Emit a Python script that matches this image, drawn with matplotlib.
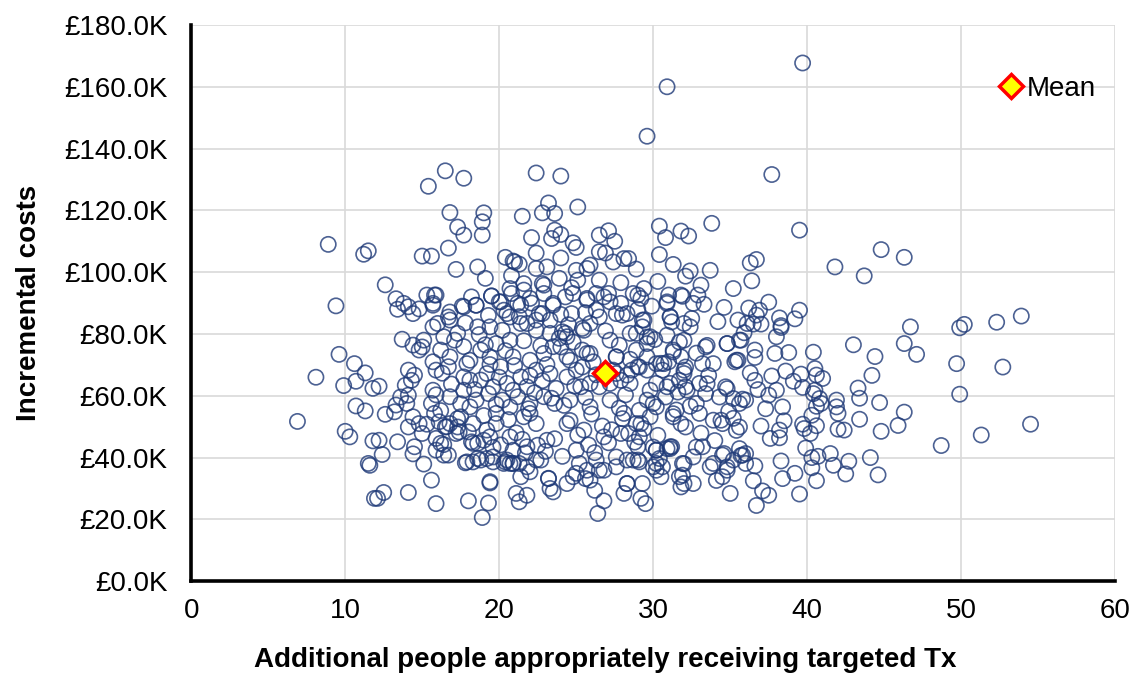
import matplotlib
matplotlib.use("Agg")
import matplotlib.pyplot as plt
from matplotlib import font_manager
from matplotlib.ticker import FuncFormatter

# additional people receiving targeted Tx (x) and incremental cost in £K (y),
# read off the reference scatter, one pair per position
x_people = [
    39.7, 37.7, 39.5, 44.8, 46.3, 41.8, 43.7, 36.3, 36.7, 36.4, 37.5, 36.2, 36.9, 36.7, 36.5, 37.0,
    38.2, 38.3, 38.3, 39.5, 39.2, 38.0, 46.7, 46.3, 47.1, 49.9, 50.2, 49.7, 49.9, 51.3, 48.7, 43.0,
    44.4, 44.2, 43.3, 43.4, 44.7, 43.4, 46.3, 45.9, 44.8, 44.1, 44.6, 42.5, 42.7, 41.7, 41.5, 41.9,
    41.9, 42.0, 42.0, 42.4, 40.4, 40.5, 40.6, 41.0, 39.6, 39.7, 39.1, 40.5, 40.4, 40.8, 40.9, 40.6,
    40.3, 40.6, 40.2, 39.7, 39.8, 39.9, 40.3, 40.7, 40.3, 40.6, 39.5, 39.2, 38.4, 38.3, 36.5, 37.1,
    37.5, 36.7, 36.6, 36.0, 35.8, 38.4, 37.3, 37.0, 38.5, 38.2, 37.6, 38.2, 38.6, 37.7, 36.6, 36.8,
    38.0, 37.5, 36.3, 37.9, 38.8, 36.6, 36.6, 35.8, 52.3, 53.9, 52.7, 54.5,
    # left side
    16.5, 17.7, 15.4, 16.8, 19.0, 18.9, 17.3, 17.7, 18.9, 8.9, 11.2, 11.5, 16.7, 15.0, 15.6, 17.2,
    18.6, 19.1, 20.4, 21.0, 12.6, 9.4, 13.3, 13.8, 13.4, 14.1, 14.4, 14.8, 15.3, 15.9, 15.7, 15.7,
    17.6, 18.5, 16.8, 16.7, 19.5, 20.0, 15.7, 9.6, 10.6, 11.3, 10.7, 8.1, 9.9, 11.8, 12.2, 10.7,
    11.3, 6.9, 12.6, 13.2, 10.0, 10.3, 11.8, 12.2, 13.4, 12.4, 11.5, 11.6, 14.4, 14.5, 15.1, 15.6,
    11.9, 12.1, 12.5, 14.1, 15.9, 18.0, 19.3, 18.9, 19.4, 13.7, 14.4, 15.1, 14.8, 15.0, 15.7, 14.1,
    14.5, 14.3, 13.9, 14.1, 13.6, 14.0, 13.3, 14.4, 14.8, 15.3, 15.0, 14.1, 15.9, 16.4, 15.9, 16.4,
    16.7, 17.8, 18.3, 18.6, 19.2, 19.6, 20.3, 20.7, 18.2, 18.6, 19.0, 17.4, 17.3, 16.8, 16.5, 16.1,
    # middle
    30.9, 29.6, 22.4, 24.0, 23.2, 22.8, 23.6, 25.1, 21.5, 23.6, 24.0, 23.4, 22.1, 24.8, 25.0, 22.4,
    24.0, 26.5, 27.1, 27.5, 26.5, 26.9, 27.4, 30.4, 30.8, 31.8, 32.3, 33.8, 30.4, 31.3, 32.4, 32.1,
    33.7, 28.1, 28.4, 20.9, 21.3, 22.4, 23.1, 22.8, 22.9, 25.0, 25.7, 25.9, 25.1, 24.7, 35.2, 26.5,
    27.1, 26.3, 25.7, 28.7, 29.4, 29.2, 29.9, 31.0, 30.9, 31.9, 32.9, 32.6, 33.3, 35.5, 36.1, 31.1,
    31.2, 32.5, 32.4, 29.3, 29.3, 28.9, 27.6, 28.0, 26.5, 25.9, 25.4, 21.6, 21.6, 20.7, 21.2, 20.7,
    20.3, 21.4, 22.4, 22.6, 23.5, 24.3, 23.3, 24.1, 24.4, 24.8, 24.0, 33.4, 33.2, 33.9, 34.8, 35.6,
    35.5, 35.3, 31.7, 31.3, 31.8, 32.1, 31.0, 30.6, 30.2, 29.6, 28.9, 29.6, 29.1, 28.6, 28.3, 25.4,
    25.9, 26.1, 25.4, 25.0, 24.6, 27.6, 27.4, 27.9, 27.2, 26.5, 25.9, 30.2, 30.9, 31.7, 32.1, 33.0,
    33.4, 34.3, 34.7, 35.2, 35.6, 36.0, 29.6, 29.1, 29.8, 28.9, 28.4, 29.1, 31.3, 31.8, 32.1, 33.0,
    33.9, 34.5, 35.2, 35.6, 30.2, 30.9, 31.2, 30.4, 30.0, 30.6, 31.9, 32.6, 33.2, 33.9, 34.5, 35.2,
    34.8, 35.6, 36.0, 31.7, 31.8, 32.6, 34.5, 35.0, 28.3, 28.1, 29.3, 29.2, 29.5, 26.8, 26.4, 26.2,
    25.9, 25.6, 23.3, 23.5, 24.4, 21.1, 21.3, 21.8, 23.2, 22.4, 21.3, 22.0, 20.5, 20.9, 25.2, 25.0,
    25.7, 26.5, 27.6, 28.3, 28.7, 29.1,
    # dense core, left half
    15.8, 17.7, 18.5, 19.5, 20.1, 20.8, 21.4, 22.0, 22.9, 22.8, 23.5, 16.0, 16.8, 17.3, 17.1, 18.6,
    19.4, 20.2, 20.5, 21.3, 21.8, 22.4, 23.3, 16.2, 17.7, 18.8, 19.8, 20.7, 22.0, 22.9, 23.5, 15.9,
    16.7, 17.7, 18.8, 19.6, 20.5, 21.4, 22.4, 23.3, 16.8, 17.7, 18.5, 19.3, 20.2, 21.2, 22.0, 22.9,
    23.6, 15.8, 16.6, 17.5, 18.3, 19.2, 19.8, 20.7, 21.6, 22.4, 23.1, 16.2, 17.2, 18.3, 19.4, 20.9,
    21.8, 17.9, 18.8, 19.6, 20.4, 20.9, 21.4, 21.8, 22.7, 19.4, 23.2, 15.7, 15.6, 18.1, 19.2, 20.1,
    20.9, 21.8, 18.1, 20.7, 22.0, 19.8, 16.8, 18.1, 20.9, 19.4,
    # dense core, right half
    24.8, 25.7, 26.8, 27.9, 29.0, 30.9, 31.8, 24.7, 26.3, 28.3, 29.4, 31.1, 32.0, 24.3, 25.5, 27.2,
    28.5, 29.8, 31.3, 24.4, 25.7, 27.6, 29.0, 30.5, 32.0, 24.4, 25.3, 27.6, 28.5, 29.8, 31.1, 32.2,
    24.6, 25.9, 27.2, 28.1, 29.2, 30.2, 31.5, 24.4, 25.5, 26.8, 27.9, 29.0, 30.2, 31.1, 25.0, 26.3,
    27.6, 29.0, 30.2, 24.8, 26.8, 28.3, 30.5, 31.9,
    29.6, 30.9, 32.0, 33.5, 34.8, 35.7, 35.4, 29.6, 30.7, 32.0, 33.5, 34.8, 30.0, 31.3, 32.8, 34.4,
    35.4, 30.0, 31.1, 32.8, 34.6, 35.7, 32.0, 33.7, 34.8, 30.2, 32.0, 34.1,
    # extra core
    19.8, 20.6, 21.1, 21.9, 22.3, 22.8, 23.1, 23.7, 24.2, 24.6, 25.1, 25.6, 26.0, 26.7, 27.1, 27.8,
    28.2, 28.8, 23.6, 22.5, 21.7, 20.1, 19.0, 18.4, 17.5, 16.9, 16.3, 17.9, 19.1, 20.4, 21.6, 22.7,
    23.9, 24.5, 25.6, 26.9, 27.8, 28.5, 26.3, 24.9, 23.4, 22.0, 21.0, 20.0, 19.4, 18.7, 17.8, 16.4,
    15.9, 16.2, 17.3, 18.0, 19.6, 21.5, 23.0, 24.1, 25.8, 26.2, 27.3, 28.0, 29.4, 30.3, 30.8, 31.6,
    32.4, 33.1, 34.0, 34.9, 33.6, 32.8, 30.1, 29.0, 27.2, 24.0, 22.1, 19.3, 18.2, 20.8, 23.9, 27.9,
    30.3, 28.9, 33.1, 34.2, 34.6, 35.9,
]
y_cost_k = [
    167.7, 131.6, 113.6, 107.3, 104.8, 101.7, 98.8, 103.0, 104.1, 97.2, 90.3, 88.4, 87.7, 86.1, 83.2, 83.2,
    85.2, 82.7, 82.1, 87.7, 84.9, 79.1, 82.3, 76.9, 73.4, 82.0, 83.1, 70.4, 60.5, 47.3, 43.9, 76.5,
    72.7, 66.6, 62.5, 59.2, 57.8, 52.4, 54.7, 50.4, 48.5, 40.0, 34.4, 34.7, 38.8, 37.5, 41.3, 58.6,
    56.4, 54.3, 49.2, 48.9, 74.1, 68.8, 66.7, 65.6, 67.0, 62.7, 64.7, 61.8, 60.7, 59.1, 57.5, 56.6,
    53.7, 50.3, 47.8, 50.8, 49.4, 43.1, 40.0, 40.4, 36.7, 32.5, 28.2, 34.9, 33.2, 38.9, 32.5, 29.2,
    27.8, 24.5, 37.3, 38.1, 40.8, 56.4, 55.8, 50.2, 51.9, 48.9, 46.2, 46.4, 68.0, 66.4, 65.0, 62.0,
    61.8, 60.2, 67.4, 73.7, 74.0, 74.8, 72.4, 58.9, 83.8, 85.8, 69.3, 50.8,
    # left side
    132.8, 130.4, 127.8, 119.3, 119.2, 116.3, 114.6, 112.0, 112.0, 109.0, 105.8, 106.9, 107.8, 105.2, 105.2, 100.9,
    101.7, 98.0, 104.8, 103.3, 95.9, 89.1, 91.4, 89.9, 88.0, 88.8, 86.6, 88.1, 92.6, 92.6, 89.9, 89.3,
    89.0, 89.3, 87.1, 85.5, 92.3, 90.4, 82.3, 73.4, 70.4, 67.4, 64.7, 66.0, 63.3, 62.4, 63.1, 56.7,
    55.1, 51.7, 54.0, 54.8, 48.5, 46.7, 45.4, 45.6, 45.1, 41.0, 38.1, 37.5, 41.2, 43.5, 37.9, 32.7,
    26.8, 26.8, 28.7, 28.7, 25.1, 26.0, 25.3, 20.6, 31.8, 78.3, 76.4, 78.0, 74.8, 75.8, 71.0, 68.3,
    66.7, 65.0, 63.4, 60.2, 59.6, 57.5, 57.0, 53.2, 51.0, 50.8, 47.8, 49.9, 46.2, 44.2, 42.4, 40.8,
    40.8, 38.3, 38.6, 39.7, 39.7, 38.6, 38.1, 38.1, 45.1, 44.6, 45.6, 48.3, 49.9, 51.0, 49.9, 51.6,
    # middle
    160.0, 144.0, 132.1, 131.1, 122.4, 119.2, 119.0, 121.1, 118.1, 113.6, 112.2, 110.9, 111.2, 109.5, 108.0, 106.2,
    104.6, 112.0, 113.4, 110.0, 106.6, 106.2, 103.3, 114.9, 111.2, 113.3, 111.7, 115.8, 105.7, 102.5, 100.4, 98.7,
    100.6, 104.4, 104.4, 103.6, 102.6, 101.2, 101.7, 96.3, 95.8, 100.6, 101.2, 102.3, 97.4, 95.0, 94.7, 97.4,
    93.1, 93.1, 91.5, 93.1, 94.7, 91.5, 89.0, 92.6, 89.9, 92.2, 92.6, 89.9, 89.6, 84.5, 83.4, 85.5,
    83.9, 85.0, 82.3, 84.5, 82.3, 80.2, 86.6, 86.1, 85.5, 83.4, 81.8, 96.3, 94.2, 94.7, 89.9, 85.5,
    87.7, 83.4, 84.5, 86.6, 89.9, 92.0, 80.2, 80.7, 79.1, 77.4, 75.8, 75.8, 70.4, 70.4, 76.9, 78.0,
    71.5, 71.0, 77.4, 74.2, 72.6, 69.3, 71.0, 68.3, 70.4, 76.9, 74.8, 72.6, 69.3, 68.3, 66.7, 74.8,
    73.7, 71.0, 69.3, 68.3, 71.5, 72.6, 68.3, 65.0, 64.0, 62.9, 64.0, 64.0, 62.9, 65.0, 62.9, 64.0,
    60.7, 59.6, 62.9, 59.1, 57.5, 58.6, 58.6, 55.3, 53.2, 51.0, 47.8, 46.7, 53.2, 51.0, 49.9, 54.3,
    52.1, 51.0, 52.7, 49.9, 42.4, 42.9, 43.5, 39.7, 37.0, 37.0, 38.1, 40.2, 43.5, 38.1, 40.8, 39.2,
    35.9, 42.9, 41.3, 33.8, 30.5, 31.6, 33.8, 28.4, 31.6, 28.4, 31.6, 26.8, 25.1, 26.0, 21.9, 29.4,
    32.7, 33.2, 30.0, 28.9, 31.6, 28.4, 25.7, 27.8, 33.2, 39.2, 38.1, 35.4, 39.2, 38.1, 38.1, 34.9,
    35.9, 35.9, 37.0, 39.2, 39.2, 38.6,
    # dense core, left half
    92.6, 88.8, 89.3, 92.3, 90.4, 93.1, 89.3, 91.5, 93.1, 86.6, 89.3, 83.4, 84.5, 80.2, 78.0, 82.3,
    82.3, 81.2, 86.6, 85.6, 83.4, 81.2, 84.5, 74.8, 75.9, 74.8, 76.9, 78.0, 71.5, 73.7, 75.9, 68.3,
    69.4, 66.1, 65.1, 62.9, 64.0, 66.1, 68.3, 67.2, 59.7, 61.8, 58.6, 60.7, 58.6, 59.7, 57.5, 59.7,
    57.5, 54.3, 50.0, 53.2, 51.0, 48.9, 51.0, 46.7, 53.2, 51.0, 45.6, 44.6, 47.8, 44.6, 46.7, 42.4,
    43.5, 38.6, 39.2, 40.2, 38.6, 38.1, 33.8, 37.0, 39.2, 32.2, 33.3, 61.8, 57.5, 65.1, 67.2, 69.4,
    61.8, 62.9, 56.4, 56.4, 54.3, 54.3, 72.6, 71.5, 72.6, 72.6,
    # dense core, right half
    93.1, 91.0, 92.0, 89.9, 92.6, 90.4, 92.6, 86.6, 87.7, 86.6, 84.5, 85.6, 83.4, 80.2, 81.2, 78.0,
    80.2, 79.1, 74.8, 72.6, 73.7, 72.6, 69.4, 70.5, 68.3, 66.1, 62.9, 67.2, 64.0, 61.8, 64.0, 61.8,
    58.6, 56.4, 58.6, 54.3, 51.0, 56.4, 55.4, 51.0, 48.9, 46.7, 47.8, 43.5, 42.4, 43.5, 42.4, 39.2,
    40.2, 39.2, 38.1, 33.8, 35.9, 31.6, 33.8, 34.3,
    79.0, 79.6, 78.0, 76.3, 76.9, 78.0, 71.5, 68.3, 70.4, 67.2, 63.9, 62.3, 57.5, 54.2, 57.5, 52.1,
    48.8, 43.4, 42.9, 43.4, 41.3, 40.7, 38.0, 37.0, 37.0, 35.9, 31.6, 32.6,
    # extra core
    57.2, 52.3, 48.0, 55.8, 61.0, 64.9, 70.1, 62.4, 56.9, 52.0, 47.3, 59.5, 54.1, 50.2, 44.8, 56.0,
    60.3, 45.0, 46.1, 44.0, 41.5, 44.1, 53.6, 62.0, 57.4, 63.8, 67.3, 70.4, 76.5, 74.6, 77.8, 76.2,
    78.6, 83.0, 86.9, 81.0, 76.4, 71.8, 66.8, 63.1, 59.2, 66.5, 69.8, 66.0, 70.1, 79.8, 83.6, 79.1,
    60.3, 55.2, 52.6, 48.3, 43.3, 45.9, 42.0, 40.4, 44.1, 41.6, 49.0, 52.6, 49.4, 47.2, 59.6, 61.2,
    56.6, 47.9, 45.5, 55.0, 66.6, 73.8, 78.2, 88.0, 90.4, 86.3, 90.0, 86.0, 92.0, 98.9, 98.0, 96.6,
    97.0, 101.0, 95.8, 84.0, 88.6, 80.4,
]

mean_x = [26.9]
mean_y_k = [67.5]

x_ticks = [0, 10, 20, 30, 40, 50, 60]
y_ticks = [0, 20, 40, 60, 80, 100, 120, 140, 160, 180]


def pick_family(names, fallback):
    for name in names:
        try:
            font_manager.findfont(name, fallback_to_default=False)
            return name
        except ValueError:
            continue
    return fallback


plt.rcParams["font.family"] = pick_family(["Liberation Sans", "Arial"], "DejaVu Sans")

fig = plt.figure(figsize=(11.38, 6.75), dpi=100)
ax = fig.add_axes([0.168, 0.139, 0.812, 0.824])

ax.scatter(x_people, y_cost_k, s=120, facecolors="none", edgecolors="#1F3A78",
           linewidths=1.2, alpha=0.8, zorder=3)
ax.plot(mean_x, mean_y_k, linestyle="none", marker="D", markersize=12,
        markerfacecolor="#FFFF00", markeredgecolor="#FF0000", markeredgewidth=2.5,
        zorder=5, label="Mean")

ax.set_xlim(0, 60)
ax.set_ylim(0, 180)
ax.set_xticks(x_ticks)
ax.set_yticks(y_ticks)
ax.yaxis.set_major_formatter(FuncFormatter(lambda v, _: "£{:.1f}K".format(v)))
ax.tick_params(axis="both", length=0, labelsize=20)
ax.tick_params(axis="y", pad=17)
ax.tick_params(axis="x", pad=12)

ax.grid(True, color="#D9D9D9", linewidth=1.2, zorder=0)
ax.set_axisbelow(True)
for side in ["top", "right"]:
    ax.spines[side].set_visible(False)
for side in ["left", "bottom"]:
    ax.spines[side].set_linewidth(2.6)
    ax.spines[side].set_color("black")
    ax.spines[side].set_zorder(6)

ax.set_xlabel("Additional people appropriately receiving targeted Tx",
              fontsize=20, fontweight="bold")
ax.xaxis.set_label_coords(0.448, -0.118)
ax.set_ylabel("Incremental costs", fontsize=20, fontweight="bold", labelpad=16)

ax.legend(loc="upper right", bbox_to_anchor=(0.963, 0.888), bbox_transform=fig.transFigure,
          frameon=False, fontsize=20, handlelength=0.6, handletextpad=0.25,
          borderpad=0, borderaxespad=0)

fig.savefig("out.png", dpi=100)
